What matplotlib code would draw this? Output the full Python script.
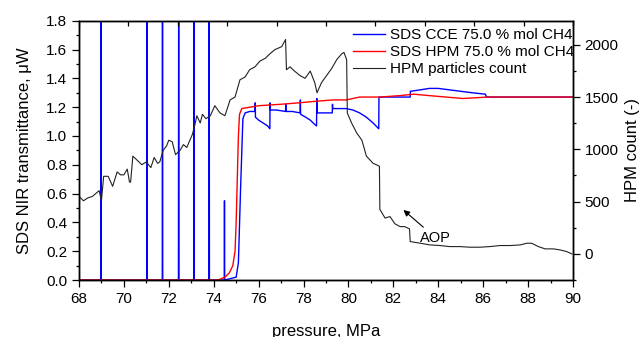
"""SDS NIR transmittance (CCE and HPM) and HPM particle count against pressure."""

import matplotlib
matplotlib.use("Agg")
import matplotlib.pyplot as plt
from matplotlib.ticker import MultipleLocator

plt.rcParams["font.family"] = ["Liberation Sans", "DejaVu Sans"]

# SDS CCE transmittance (uW), left axis -- spikes before the onset go off-scale
CCE_P = [68.0, 68.97, 68.98, 68.99, 71.02, 71.03, 71.04, 71.71, 71.72, 71.73,
         72.43, 72.44, 72.45, 73.11, 73.12, 73.13, 73.79, 73.80, 73.81,
         74.47, 74.48, 74.49, 75.0, 75.1, 75.2, 75.3, 75.4, 75.6, 75.84,
         75.85, 75.86, 76.0, 76.2, 76.4, 76.5, 76.51, 76.52, 76.8, 77.2,
         77.21, 77.22, 77.5, 77.85, 77.86, 77.87, 78.1, 78.3, 78.5, 78.58,
         78.59, 78.60, 79.0, 79.28, 79.29, 79.30, 79.6, 79.9, 80.2, 80.5,
         80.8, 81.1, 81.35, 81.36, 82.0, 82.75, 82.76, 83.2, 83.6, 84.0,
         84.5, 85.0, 85.5, 86.1, 86.15, 88.0, 90.0]
CCE_V = [0.0, 0.0, 2.0, 0.0, 0.0, 2.0, 0.0, 0.0, 2.0, 0.0,
         0.0, 2.0, 0.0, 0.0, 2.0, 0.0, 0.0, 2.0, 0.0,
         0.0, 0.55, 0.0, 0.02, 0.12, 0.65, 1.12, 1.16, 1.17, 1.17,
         1.23, 1.13, 1.11, 1.09, 1.07, 1.05, 1.23, 1.18, 1.18, 1.17,
         1.22, 1.17, 1.17, 1.16, 1.25, 1.15, 1.13, 1.11, 1.08, 1.07,
         1.26, 1.16, 1.16, 1.16, 1.22, 1.19, 1.19, 1.19, 1.18, 1.16,
         1.13, 1.09, 1.05, 1.27, 1.27, 1.27, 1.31, 1.32, 1.33, 1.33,
         1.32, 1.31, 1.30, 1.29, 1.27, 1.27, 1.27]

# SDS HPM transmittance (uW), left axis
HPM_P = [68.0, 74.2, 74.5, 74.7, 74.85, 74.95, 75.0, 75.05, 75.1, 75.15, 75.25,
         76.0, 77.0, 77.8, 78.5, 79.3, 79.9, 80.5, 81.4, 82.3, 82.9,
         83.6, 85.1, 86.2, 88.0, 90.0]
HPM_V = [0.0, 0.0, 0.02, 0.05, 0.1, 0.2, 0.4, 0.7, 1.0, 1.15, 1.19,
         1.21, 1.22, 1.23, 1.24, 1.25, 1.25, 1.27, 1.27, 1.28, 1.29,
         1.28, 1.26, 1.27, 1.27, 1.27]

# HPM particle count (-), right axis
CNT_P = [68.0, 68.2, 68.4, 68.6, 68.9, 69.0, 69.1, 69.3, 69.5, 69.7,
         69.85, 70.0, 70.15, 70.25, 70.3, 70.4, 70.6, 70.8, 71.0, 71.2,
         71.35, 71.5, 71.6, 71.75, 71.9, 72.0, 72.15, 72.3, 72.5, 72.65,
         72.8, 73.05, 73.15, 73.25, 73.4, 73.5, 73.65, 73.85, 74.05, 74.28,
         74.5, 74.73, 74.95, 75.17, 75.4, 75.6, 75.84, 76.06, 76.3, 76.5,
         76.73, 77.03, 77.2, 77.24, 77.4, 77.6, 77.84, 78.07, 78.3, 78.5,
         78.6, 78.8, 79.03, 79.26, 79.48, 79.7, 79.8, 79.92, 79.95, 80.14,
         80.37, 80.6, 80.8, 81.1, 81.38, 81.4, 81.63, 81.85, 82.07, 82.3,
         82.5, 82.72, 82.75, 83.2, 83.63, 84.08, 84.5, 84.97, 85.4, 85.86,
         86.3, 86.75, 87.2, 87.65, 87.94, 88.16, 88.46, 88.76, 89.13, 89.43,
         89.72, 89.95]
CNT_V = [550, 508, 536, 550, 605, 508, 742, 742, 646, 784,
         756, 756, 811, 687, 687, 935, 894, 853, 880, 825,
         922, 866, 880, 990, 1032, 1087, 1073, 949, 990, 1045,
         1018, 1142, 1224, 1321, 1252, 1335, 1293, 1321, 1417, 1348,
         1321, 1472, 1500, 1665, 1692, 1761, 1789, 1844, 1871, 1913,
         1954, 1982, 2050, 1761, 1789, 1748, 1706, 1679, 1748, 1637,
         1541, 1637, 1706, 1775, 1858, 1913, 1927, 1858, 1348, 1252,
         1156, 1087, 935, 866, 839, 426, 343, 357, 288, 261,
         261, 240, 118, 102, 86, 80, 70, 70, 64, 64,
         70, 80, 80, 86, 102, 102, 70, 48, 48, 38,
         22, 0]

fig = plt.figure(figsize=(6.42, 3.37), dpi=100)
ax = fig.add_axes([0.123, 0.169, 0.7695, 0.7696])
ax2 = ax.twinx()

l1, = ax.plot(CCE_P, CCE_V, color="#0000ff", lw=1.0, label="SDS CCE 75.0 % mol CH4")
l2, = ax.plot(HPM_P, HPM_V, color="#ff0000", lw=1.0, label="SDS HPM 75.0 % mol CH4")
l3, = ax2.plot(CNT_P, CNT_V, color="#222222", lw=0.8, label="HPM particles count")

ax.set_xlim(68, 90)
ax.set_ylim(0, 1.8)
ax2.set_ylim(-250, 2230)

ax.xaxis.set_major_locator(MultipleLocator(2))
ax.xaxis.set_minor_locator(MultipleLocator(1))
ax.yaxis.set_major_locator(MultipleLocator(0.2))
ax.yaxis.set_minor_locator(MultipleLocator(0.1))
ax.yaxis.set_major_formatter(matplotlib.ticker.FormatStrFormatter("%.1f"))
ax2.yaxis.set_major_locator(MultipleLocator(500))
ax2.yaxis.set_minor_locator(MultipleLocator(250))

for a in (ax, ax2):
    a.tick_params(which="major", direction="out", length=4.8, width=0.9, labelsize=11)
    a.tick_params(which="minor", direction="out", length=2.4, width=0.9)
    for s in a.spines.values():
        s.set_linewidth(1.0)

# top edge: ten evenly spaced inward ticks, no labels
top = ax.twiny()
top.set_xlim(0, 1)
top.xaxis.set_major_locator(MultipleLocator(0.1))
top.tick_params(axis="x", direction="in", length=3.5, width=0.9, labeltop=False)

ax.set_xlabel("pressure, MPa", fontsize=12, labelpad=13)
ax.set_ylabel("SDS NIR transmittance, \u03bcW", fontsize=12, labelpad=10)
ax2.set_ylabel("HPM count (-)", fontsize=12, labelpad=5)

top.annotate("AOP", xy=(82.45, 420), xytext=(83.2, 153),
             xycoords=ax2.transData, textcoords=ax2.transData,
             fontsize=10.5, va="center", ha="left",
             arrowprops=dict(arrowstyle="-|>", color="black", lw=0.8,
                             mutation_scale=9, shrinkA=1, shrinkB=0))

top.legend(handles=[l1, l2, l3], loc="upper right", bbox_to_anchor=(1.018, 1.0),
           frameon=False, fontsize=11, handlelength=2.1, handletextpad=0.35,
           labelspacing=0.2, borderpad=0.5, borderaxespad=0)

fig.savefig("out.png", dpi=100)
